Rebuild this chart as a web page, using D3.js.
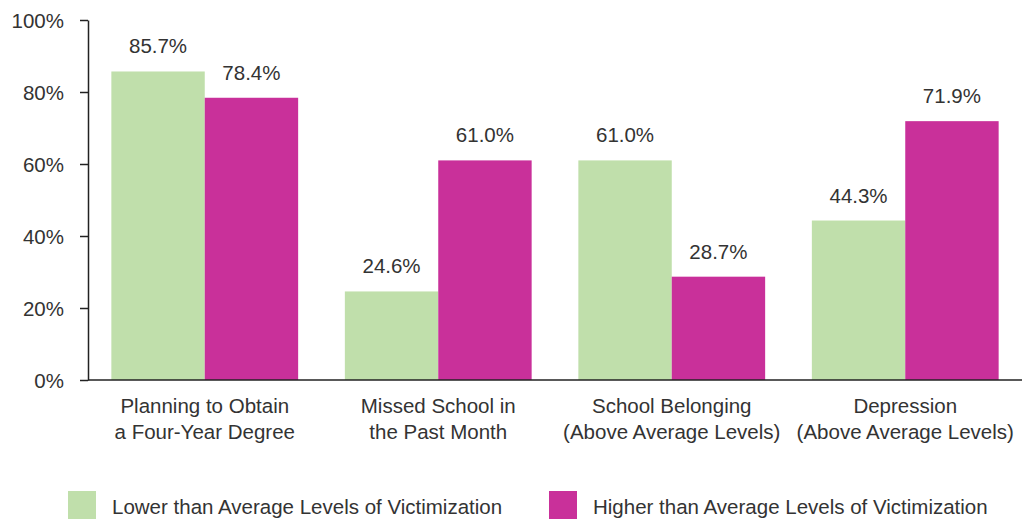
<!DOCTYPE html>
<html>
<head>
<meta charset="utf-8">
<script src="https://cdn.jsdelivr.net/npm/d3@7"></script>
<style>
  body { margin: 0; background: #fff; }
  text { font-family: "Liberation Sans", Arial, sans-serif; fill: #333; }
</style>
</head>
<body>
<div id="chart"></div>
<script>
//data
var categories = [
  ["Planning to Obtain", "a Four-Year Degree"],
  ["Missed School in", "the Past Month"],
  ["School Belonging", "(Above Average Levels)"],
  ["Depression", "(Above Average Levels)"]
];
var seriesNames = ["Lower than Average Levels of Victimization", "Higher than Average Levels of Victimization"];
var lowerValues = [85.7, 24.6, 61.0, 44.3];
var higherValues = [78.4, 61.0, 28.7, 71.9];
var yTicks = [0, 20, 40, 60, 80, 100];
var colors = ["#c0dfab", "#c9309a"];

var w = 1025, h = 520;
var margin = {top: 20, left: 88, right: 3, bottom: 140};

var svg = d3.select("#chart").append("svg")
  .attr("width", w)
  .attr("height", h);

var x = d3.scaleBand()
  .domain(d3.range(categories.length))
  .range([margin.left, w - margin.right])
  .paddingInner(0.2)
  .paddingOuter(0.1);

var sub = d3.scaleBand()
  .domain([0, 1])
  .range([0, x.bandwidth()]);

var y = d3.scaleLinear()
  .domain([0, 100])
  .range([h - margin.bottom, margin.top]);

//bars
var rows = categories.map(function(c, i) {
  return [lowerValues[i], higherValues[i]];
});

var groups = svg.append("g").selectAll("g")
  .data(rows)
  .enter()
  .append("g")
  .attr("transform", function(d, i) { return "translate(" + x(i) + ",0)"; });

groups.selectAll("rect")
  .data(function(d) { return d; })
  .enter()
  .append("rect")
  .attr("x", function(d, j) { return sub(j); })
  .attr("y", function(d) { return y(d); })
  .attr("width", sub.bandwidth())
  .attr("height", function(d) { return y(0) - y(d); })
  .attr("fill", function(d, j) { return colors[j]; });

groups.selectAll("text")
  .data(function(d) { return d; })
  .enter()
  .append("text")
  .attr("x", function(d, j) { return sub(j) + sub.bandwidth() / 2; })
  .attr("y", function(d) { return y(d) - 18; })
  .attr("text-anchor", "middle")
  .attr("font-size", 20.5)
  .text(function(d) { return d.toFixed(1) + "%"; });

//y axis
var yAxis = svg.append("g")
  .attr("transform", "translate(" + margin.left + ",0)")
  .call(d3.axisLeft(y).tickValues(yTicks).tickSize(8).tickSizeOuter(0)
    .tickFormat(function(d) { return d + "%"; }));
yAxis.select(".domain").attr("stroke", "#222").attr("stroke-width", 1.5);
yAxis.selectAll(".tick line").attr("stroke", "#222").attr("stroke-width", 1.5);
yAxis.selectAll(".tick text")
  .attr("x", -24)
  .attr("dy", "0.35em")
  .attr("font-size", 20.5)
  .attr("font-family", "Liberation Sans, Arial, sans-serif")
  .attr("fill", "#333");

//x axis line
svg.append("line")
  .attr("x1", margin.left)
  .attr("x2", w - margin.right)
  .attr("y1", y(0))
  .attr("y2", y(0))
  .attr("stroke", "#222")
  .attr("stroke-width", 1.5);

//category labels
var catLabels = svg.append("g").selectAll("text")
  .data(categories)
  .enter()
  .append("text")
  .attr("text-anchor", "middle")
  .attr("font-size", 20.5)
  .attr("x", function(d, i) { return x(i) + x.bandwidth() / 2; })
  .attr("y", y(0) + 33);

catLabels.selectAll("tspan")
  .data(function(d) { return d; })
  .enter()
  .append("tspan")
  .attr("x", function() { return this.parentNode.getAttribute("x"); })
  .attr("dy", function(d, k) { return k === 0 ? 0 : 26; })
  .text(function(d) { return d; });

//legend
var legendX = [68, 549];
var legend = svg.append("g").selectAll("g")
  .data(seriesNames)
  .enter()
  .append("g")
  .attr("transform", function(d, i) { return "translate(" + legendX[i] + ",491)"; });

legend.append("rect")
  .attr("width", 28)
  .attr("height", 28)
  .attr("fill", function(d, i) { return colors[i]; });

legend.append("text")
  .attr("x", 44)
  .attr("y", 23)
  .attr("font-size", 20.5)
  .text(function(d) { return d; });
</script>
</body>
</html>
